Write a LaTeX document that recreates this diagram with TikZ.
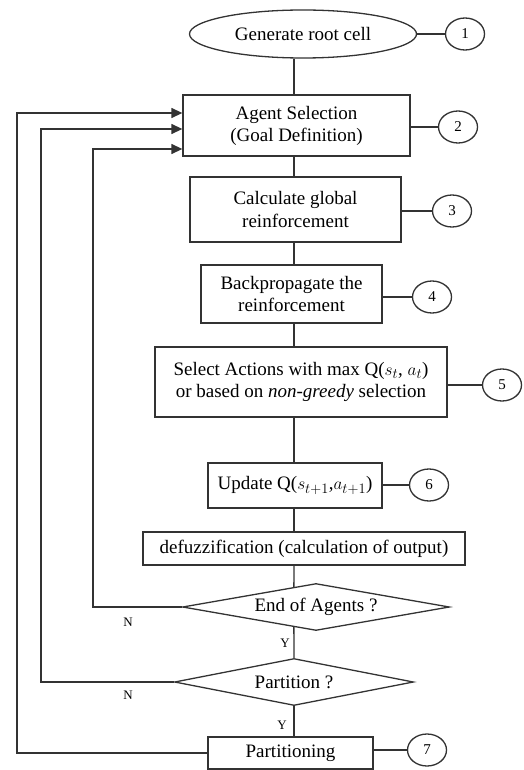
\documentclass[tikz,border=0pt]{standalone}
\usepackage{fontspec}
\setmainfont{Liberation Serif}
\usetikzlibrary{shapes.geometric,arrows.meta,calc}
\begin{document}
\begin{tikzpicture}[x=1pt,y=-1pt,
  every node/.style={inner sep=0pt, align=center, font=\fontsize{19}{22}\selectfont},
  ln/.style={draw=black!80, line width=1.3pt},
  stepbox/.style={rectangle, ln},
  tag/.style={ellipse, ln, minimum width=39pt, minimum height=32pt, font=\fontsize{15}{16}\selectfont},
  decision/.style={diamond, ln, aspect=5.5},
  yn/.style={font=\fontsize{13}{15}\selectfont},
  arr/.style={ln, -{Triangle[length=11pt,width=10pt]}}]
\useasboundingbox (0,0) rectangle (523,770);

% process steps
\node[ellipse, ln, minimum width=227pt, minimum height=48pt] (root) at (303,34) {Generate root cell};
\node[stepbox, minimum width=227pt, minimum height=61pt] (b2) at (296.5,125.5) {Agent Selection\\(Goal Definition)};
\node[stepbox, minimum width=211pt, minimum height=65pt] (b3) at (295.5,209.5) {Calculate global\\reinforcement};
\node[stepbox, minimum width=181pt, minimum height=58pt] (b4) at (291.5,294) {Backpropagate the\\reinforcement};
\node[stepbox, minimum width=292pt, minimum height=70pt] (b5) at (301,382) {Select Actions with max Q($s_t$, $a_t$)\\or based on \textit{non-greedy} selection};
\node[stepbox, minimum width=174pt, minimum height=45pt] (b6) at (295,485.5) {Update Q($s_{t+1}$,$a_{t+1}$)};
\node[stepbox, minimum width=322pt, minimum height=33pt] (b7) at (304,548.5) {defuzzification (calculation of output)};
\node[decision, minimum width=267pt, minimum height=47pt] (d1) at (316,607) {End of Agents ?};
\node[decision, minimum width=239pt, minimum height=47pt] (d2) at (294,682) {Partition ?};
\node[stepbox, minimum width=165pt, minimum height=32pt] (b8) at (290.5,753) {Partitioning};

% numbered tags
\node[tag] (c1) at (465,34) {1};
\node[tag] (c2) at (458,127) {2};
\node[tag] (c3) at (452,211) {3};
\node[tag] (c4) at (432,297) {4};
\node[tag] (c5) at (502,385) {5};
\node[tag] (c6) at (429,485) {6};
\node[tag] (c7) at (427,750) {7};

\draw[ln] (root.east |- c1) -- (c1.west);
\draw[ln] (b2.east |- c2) -- (c2.west);
\draw[ln] (b3.east |- c3) -- (c3.west);
\draw[ln] (b4.east |- c4) -- (c4.west);
\draw[ln] (b5.east |- c5) -- (c5.west);
\draw[ln] (b6.east |- c6) -- (c6.west);
\draw[ln] (b8.east |- c7) -- (c7.west);

% main flow
\coordinate (spine) at (294,0);
\draw[ln] (root.south -| spine) -- (b2.north -| spine);
\draw[ln] (b2.south -| spine) -- (b3.north -| spine);
\draw[ln] (b3.south -| spine) -- (b4.north -| spine);
\draw[ln] (b4.south -| spine) -- (b5.north -| spine);
\draw[ln] (b5.south -| spine) -- (b6.north -| spine);
\draw[ln] (b6.south -| spine) -- (b7.north -| spine);
\draw[ln] (b7.south -| spine) -- ($(d1.north)!0.165!(d1.west)$);
\draw[ln] ($(d1.south)!0.165!(d1.west)$) -- (d2.north);
\draw[ln] (d2.south) -- (b8.north -| spine);

% feedback loops
\coordinate (l1) at (17,113);
\coordinate (l2) at (41,129);
\coordinate (l3) at (93,149);
\draw[arr] (d1.west) -| (l3) -- (b2.west |- l3);
\draw[arr] (d2.west) -| (l2) -- (b2.west |- l2);
\draw[arr] (b8.west) -| (l1) -- (b2.west |- l1);

% branch labels
\node[yn] (n1) at (128,622) {N};
\node[yn] (n2) at (128,695) {N};
\node[yn] (y1) at (285,643) {Y};
\node[yn] (y2) at (282,725) {Y};
\end{tikzpicture}
\end{document}
